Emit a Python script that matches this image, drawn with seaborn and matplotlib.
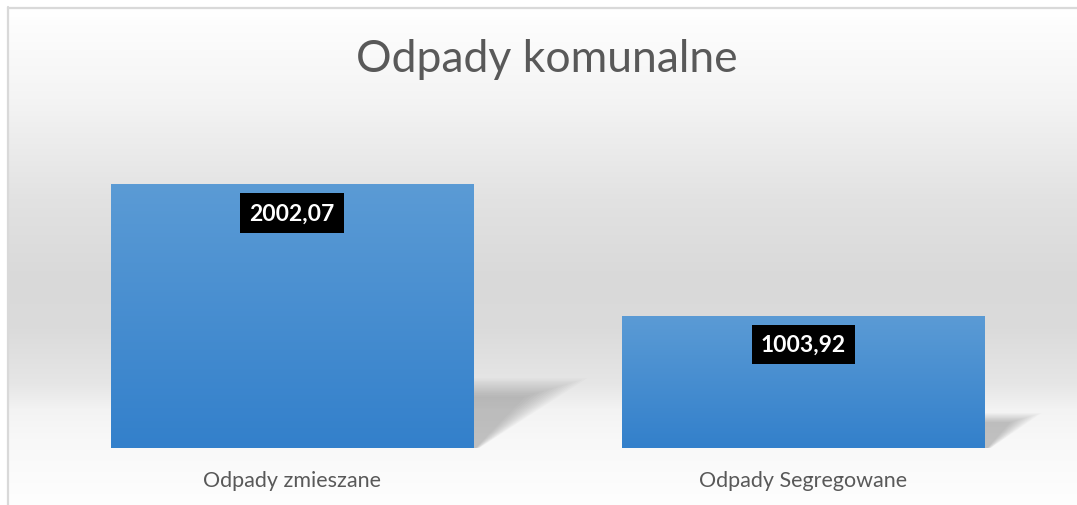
import numpy as np
import pandas as pd
import matplotlib.pyplot as plt
import matplotlib.patches as mpatches
from matplotlib.lines import Line2D
import seaborn as sns

# data
categories = ['Odpady zmieszane', 'Odpady Segregowane']
values = [2002.07, 1003.92]
value_labels = ['2002,07', '1003,92']
title = 'Odpady komunalne'

df = pd.DataFrame({'kategoria': categories, 'wartosc': values})

sns.set_theme(style='white')
plt.rcParams['font.family'] = ['Lato', 'DejaVu Sans']

W, H = 1077, 506
fig = plt.figure(figsize=(W / 100, H / 100), dpi=100)
fig.patch.set_facecolor('white')

# background gradient (white -> grey band -> white)
bg = fig.add_axes([8 / W, 0, 1 - 8 / W, 1 - 9 / H], zorder=-10)
ys = np.arange(9, H)
stops_y = [9, 100, 200, 280, 330, 385, 410, 440, 506]
stops_c = [255, 244, 226, 217, 219, 230, 243, 248, 254]
col = np.interp(ys, stops_y, stops_c) / 255.0
grad = np.repeat(col[:, None], 2, axis=1)
bg.imshow(np.dstack([grad, grad, grad]), aspect='auto', extent=[0, 1, 0, 1])
bg.set_axis_off()

# border (left and top only, rest is cropped)
fig.add_artist(Line2D([7.5 / W, 7.5 / W], [0, 1 - 7.5 / H], transform=fig.transFigure,
                      color='#d9d9d9', lw=1.6))
fig.add_artist(Line2D([7.5 / W, 1], [1 - 8.5 / H, 1 - 8.5 / H], transform=fig.transFigure,
                      color='#d9d9d9', lw=1.6))

ymax = 2400
px_per_unit = 264 / 2002.07
ax_h = ymax * px_per_unit
ax = fig.add_axes([36 / W, 57 / H, 1023 / W, ax_h / H])
ax.patch.set_alpha(0)

sns.barplot(data=df, x='kategoria', y='wartosc', ax=ax, width=0.708,
            color='#4a8fd2', saturation=1)
ax.set_xlim(-0.5, 1.5)
ax.set_ylim(0, ymax)

# gradient fill + soft perspective shadow for each bar
top_c = np.array([0x5b, 0x9b, 0xd5]) / 255
bot_c = np.array([0x33, 0x80, 0xcb]) / 255
for p in ax.patches:
    x0, w, h = p.get_x(), p.get_width(), p.get_height()
    p.set_edgecolor('none')
    t = np.linspace(0, 1, 200)[:, None]
    img = (top_c * (1 - t) + bot_c * t)[:, None, :]
    im = ax.imshow(img, extent=[x0, x0 + w, 0, h], aspect='auto', zorder=3)
    im.set_clip_path(p)
    xr = x0 + w
    sh_h = 0.23 * h
    ext = 8.6e-5 * h
    n = 14
    for k in range(n):
        g = k / (n - 1)
        s = 0.6 + 0.7 * g
        poly = mpatches.Polygon(
            [(xr, 0), (xr, sh_h * (0.85 + 0.3 * g)), (xr + ext * s, sh_h * (0.85 + 0.3 * g)),
             (xr + 0.01 * s, 0)],
            closed=True, facecolor='black', edgecolor='none', alpha=0.016, zorder=1)
        ax.add_patch(poly)

ax.set_xlim(-0.5, 1.5)
ax.set_ylim(0, ymax)

# value labels
for i, (v, lab) in enumerate(zip(values, value_labels)):
    ax.annotate(lab, xy=(i, v), xytext=(0, -29), textcoords='offset pixels',
                ha='center', va='center', color='white', fontsize=16.5, fontweight='bold',
                bbox=dict(boxstyle='square,pad=0.4', facecolor='black', edgecolor='none'),
                zorder=5)

ax.set_xlabel('')
ax.set_ylabel('')
ax.set_yticks([])
ax.tick_params(axis='x', length=0, pad=16, labelsize=15.5, labelcolor='#595959')
for s in ax.spines.values():
    s.set_visible(False)

fig.text(547 / W, 1 - 60 / H, title, ha='center', va='center', fontsize=32,
         color='#595959', fontweight='normal')

fig.savefig('out.png', dpi=100)
